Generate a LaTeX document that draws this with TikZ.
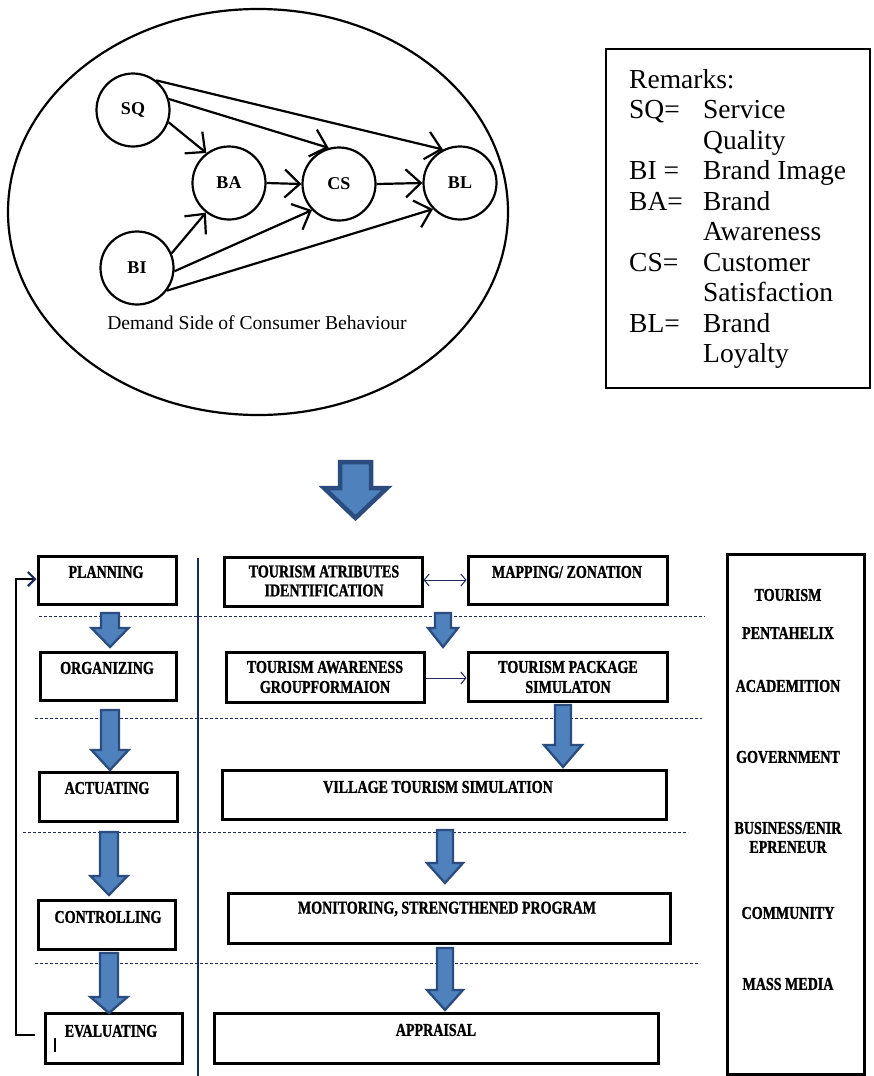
\documentclass[tikz,border=0pt]{standalone}
\usepackage{fontspec}
\setmainfont{Liberation Serif}
\newfontfamily\condfont[FakeStretch=0.78,FakeBold=1.2]{Liberation Serif}
\usetikzlibrary{arrows.meta,shapes.geometric}
\definecolor{navy}{HTML}{1F2A5A}
\definecolor{blockfill}{HTML}{4F81BD}
\definecolor{blockedge}{HTML}{2B4C7E}
\newcommand\blockarr[6]{%
  \draw[blockedge, fill=blockfill, line width=2.3pt, line join=miter]
    (#1-#5,#2) -- (#1+#5,#2) -- (#1+#5,#3) -- (#1+#6,#3) -- (#1,#4)
    -- (#1-#6,#3) -- (#1-#5,#3) -- cycle;}
\begin{document}
\begin{tikzpicture}[x=1pt,y=-1pt,
  circ/.style={circle, draw, line width=2.2pt, minimum size=73pt, inner sep=0pt,
    font=\fontsize{18}{20}\selectfont\bfseries},
  garrow/.style={line width=2.2pt, -{Straight Barb[length=15pt,width=28pt]}},
  box/.style={draw, line width=3pt, inner sep=0pt},
  btxt/.style={font=\condfont\bfseries\fontsize{18}{19}\selectfont, align=center, inner sep=0pt},
  rem/.style={anchor=base west, inner sep=0pt, font=\fontsize{27.5}{30.5}\selectfont},
  sepdash/.style={navy, line width=1pt, dash pattern=on 3pt off 2pt},
  thinarr/.style={navy, line width=1pt},
  fbline/.style={line width=2.2pt}
]
\useasboundingbox (0,0) rectangle (873,1076);
\fill[white] (0,0) rectangle (873,1076);

% ---------- top: demand side ----------
\node[draw, ellipse, line width=2.2pt, minimum width=500pt, minimum height=406pt, inner sep=0pt] (ell) at (258,212) {};
\node[circ] (SQ) at (133,110) {SQ};
\node[circ] (BA) at (229,183) {BA};
\node[circ] (CS) at (339,184) {CS};
\node[circ] (BL) at (460,183) {BL};
\node[circ] (BI) at (137,268) {BI};
\draw[garrow] (SQ.-19) -- (BA.127);
\draw[garrow] (SQ.17) -- (CS.106);
\draw[garrow] (SQ.52) -- (BL.117);
\draw[garrow] (BA.east) -- (CS.west);
\draw[garrow] (CS.east) -- (BL.west);
\draw[garrow] (BI.23) -- (BA.232);
\draw[garrow] (BI.-5) -- (CS.224);
\draw[garrow] (BI.-37) -- (BL.224);
\node[font=\fontsize{19.6}{22}\selectfont, inner sep=0pt] (dem) at (257,323) {Demand Side of Consumer Behaviour};

% ---------- remarks ----------
\node[draw, line width=2.4pt, minimum width=264pt, minimum height=339pt, inner sep=0pt] (rembox) at (738,218.5) {};
\node[rem] (r0) at (629,88) {Remarks:};
\node[rem] (r1) at (629,118.5) {SQ=};
\node[rem] (r1b) at (703,118.5) {Service};
\node[rem] (r2b) at (703,149) {Quality};
\node[rem] (r3) at (629,179.5) {BI =};
\node[rem] (r3b) at (703,179.5) {Brand Image};
\node[rem] (r4) at (629,210) {BA=};
\node[rem] (r4b) at (703,210) {Brand};
\node[rem] (r5b) at (703,240.5) {Awareness};
\node[rem] (r6) at (629,271) {CS=};
\node[rem] (r6b) at (703,271) {Customer};
\node[rem] (r7b) at (703,301.5) {Satisfaction};
\node[rem] (r8) at (629,332) {BL=};
\node[rem] (r8b) at (703,332) {Brand};
\node[rem] (r9b) at (703,362.5) {Loyalty};

% ---------- big arrow ----------
\draw[blockedge, fill=blockfill, line width=4.5pt, line join=miter]
  (340,462) -- (371,462) -- (371,488) -- (387,488) -- (355.5,518) -- (324,488) -- (340,488) -- cycle;

% ---------- bottom: separators ----------
\draw[navy, line width=1.2pt] (198,558) -- (198,1076);
\draw[sepdash] (39,616) -- (705,616);
\draw[sepdash] (35,718) -- (702,718);
\draw[sepdash] (23,832) -- (688,832);
\draw[sepdash] (35,963) -- (700,963);

% ---------- boxes ----------
\node[box, minimum width=138pt, minimum height=48pt] (plan) at (107,580) {};
\node[box, minimum width=136pt, minimum height=48pt] (org) at (108,676) {};
\node[box, minimum width=138pt, minimum height=49pt] (act) at (108,796.5) {};
\node[box, minimum width=137pt, minimum height=49pt] (ctrl) at (106.5,924.5) {};
\node[box, minimum width=137pt, minimum height=50pt] (eval) at (113.5,1038) {};
\node[box, minimum width=198pt, minimum height=49pt] (tai) at (323,581.5) {};
\node[box, minimum width=199pt, minimum height=48pt] (map) at (567.5,580) {};
\node[box, minimum width=198pt, minimum height=50pt] (tag) at (325,677) {};
\node[box, minimum width=199pt, minimum height=49pt] (tps) at (567.5,676.5) {};
\node[box, minimum width=444pt, minimum height=49pt] (vts) at (444,794.5) {};
\node[box, minimum width=442pt, minimum height=50pt] (mon) at (449,918) {};
\node[box, minimum width=444pt, minimum height=50pt] (app) at (436,1038) {};
\node[box, minimum width=137pt, minimum height=520pt] (penta) at (795.5,814) {};

% ---------- box texts ----------
\node[btxt] (tplan) at (106,572) {PLANNING};
\node[btxt] (torg) at (107,668) {ORGANIZING};
\node[btxt] (tact) at (107,788) {ACTUATING};
\node[btxt] (tctrl) at (108,917) {CONTROLLING};
\node[btxt] (teval) at (111,1031) {EVALUATING};
\node[btxt] (ttai) at (324,581) {TOURISM ATRIBUTES\\IDENTIFICATION};
\node[btxt] (tmap) at (567,572) {MAPPING/ ZONATION};
\node[btxt, font=\condfont\bfseries\fontsize{18}{20}\selectfont] (ttag) at (325,677) {TOURISM AWARENESS\\GROUPFORMAION};
\node[btxt, font=\condfont\bfseries\fontsize{18}{20}\selectfont] (ttps) at (568,677) {TOURISM PACKAGE\\SIMULATON};
\node[btxt] (tvts) at (438,787) {VILLAGE TOURISM SIMULATION};
\node[btxt] (tmon) at (447,909) {MONITORING, STRENGTHENED PROGRAM};
\node[btxt] (tapp) at (436,1030) {APPRAISAL};
\node[btxt] (p1) at (788,595) {TOURISM};
\node[btxt] (p2) at (788,633) {PENTAHELIX};
\node[btxt] (p3) at (788,686) {ACADEMITION};
\node[btxt] (p4) at (788,757) {GOVERNMENT};
\node[btxt] (p5) at (788,837.5) {BUSINESS/ENIR\\EPRENEUR};
\node[btxt] (p6) at (788,913) {COMMUNITY};
\node[btxt] (p7) at (788,984) {MASS MEDIA};

% ---------- thin arrows ----------
\draw[thinarr, {Straight Barb[length=5pt,width=12pt]}-{Straight Barb[length=5pt,width=12pt]}] (tai.east |- 0,580) -- (map.west);
\draw[thinarr, -{Straight Barb[length=5pt,width=12pt]}] (tag.east |- 0,678) -- (tps.west |- 0,678);

% ---------- feedback ----------
\coordinate (fbs) at (35,1035);
\draw[fbline, -{Straight Barb[length=7pt,width=14pt,color=navy]}] (fbs) -- (16,1035) -- (16,579) -- (plan.west |- 0,579);
\draw[line width=1.5pt] (55,1038) -- (55,1052);

% ---------- block arrows ----------
\blockarr{110}{613}{628}{647}{9}{18.5}
\blockarr{110}{710}{750}{770}{9}{18.5}
\blockarr{109}{832}{876}{895}{9}{18.5}
\blockarr{109}{953}{997}{1013}{9}{18.5}
\blockarr{443}{613}{628}{647}{8}{15}
\blockarr{563}{705}{745}{767}{8}{19}
\blockarr{445}{830}{863}{883}{8}{18}
\blockarr{445}{948}{990}{1010}{8}{18}
\end{tikzpicture}
\end{document}
